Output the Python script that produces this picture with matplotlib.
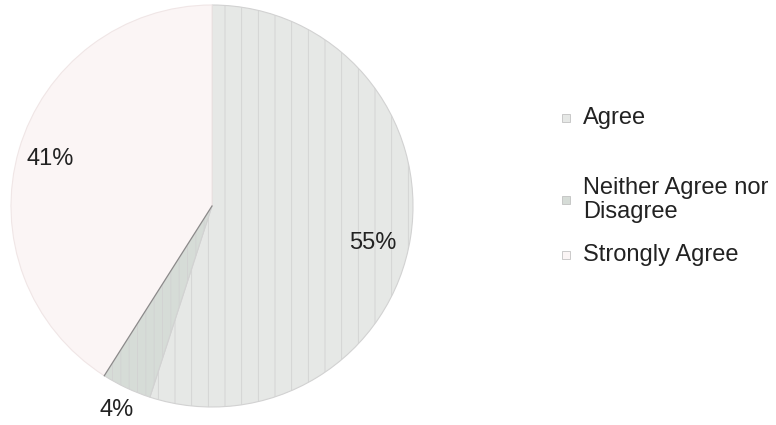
import matplotlib
matplotlib.use("Agg")
import matplotlib.pyplot as plt
import numpy as np
from matplotlib.patches import Rectangle

plt.rcParams['font.family'] = ['Liberation Sans', 'DejaVu Sans']

categories = ["Agree", "Neither Agree nor\nDisagree", "Strongly Agree"]
values = [55, 4, 41]
colors = ["#e6e8e6", "#d6dcd7", "#fbf5f5"]
hatches = ["|", "||", ""]

fig = plt.figure(figsize=(7.76, 4.25), dpi=100)
fig.patch.set_facecolor("white")
ax = fig.add_axes([11/776, 18/425, 402/776, 402/425])
ax.set_aspect("equal")

plt.rcParams['hatch.linewidth'] = 0.6
wedges, texts, autotexts = ax.pie(
    values, colors=colors, startangle=90, counterclock=False,
    autopct=lambda p: f"{p:.0f}%", pctdistance=0.84,
    wedgeprops=dict(edgecolor="#d2d2d2", linewidth=0.8),
    textprops=dict(fontsize=17, color="#222222"))
for w, h in zip(wedges, hatches):
    w.set_hatch(h)
wedges[2].set_edgecolor("#f0e6e6")
ax.set_xlim(-1, 1)
ax.set_ylim(-1, 1)

# boundary line between Neither and Strongly Agree (darker in original)
th = np.deg2rad(wedges[1].theta1)
ax.plot([0, np.cos(th)], [0, np.sin(th)], color="#8a8a8a", lw=0.9)

# label placement tweaks
w = wedges[1]
mid = np.deg2rad((w.theta1 + w.theta2) / 2)
autotexts[1].set_position((1.12 * np.cos(mid), 1.12 * np.sin(mid)))
w = wedges[0]
mid = np.deg2rad((w.theta1 + w.theta2) / 2 - 4)
autotexts[0].set_position((0.82 * np.cos(mid), 0.82 * np.sin(mid)))

# legend drawn manually
leg_y = [118, 200, 255]
for lab, col, y in zip(categories, colors, leg_y):
    yf = 1 - y / 425
    fig.patches.append(Rectangle((562/776, yf - 4/425), 8/776, 8/425,
                                 transform=fig.transFigure, facecolor=col,
                                 edgecolor="#b8b8b8", linewidth=0.5))
    fig.text(583/776, yf, lab, fontsize=17, color="#222222",
             va="center", ha="left", linespacing=1.1)

fig.savefig("out.png", dpi=100, facecolor="white")
